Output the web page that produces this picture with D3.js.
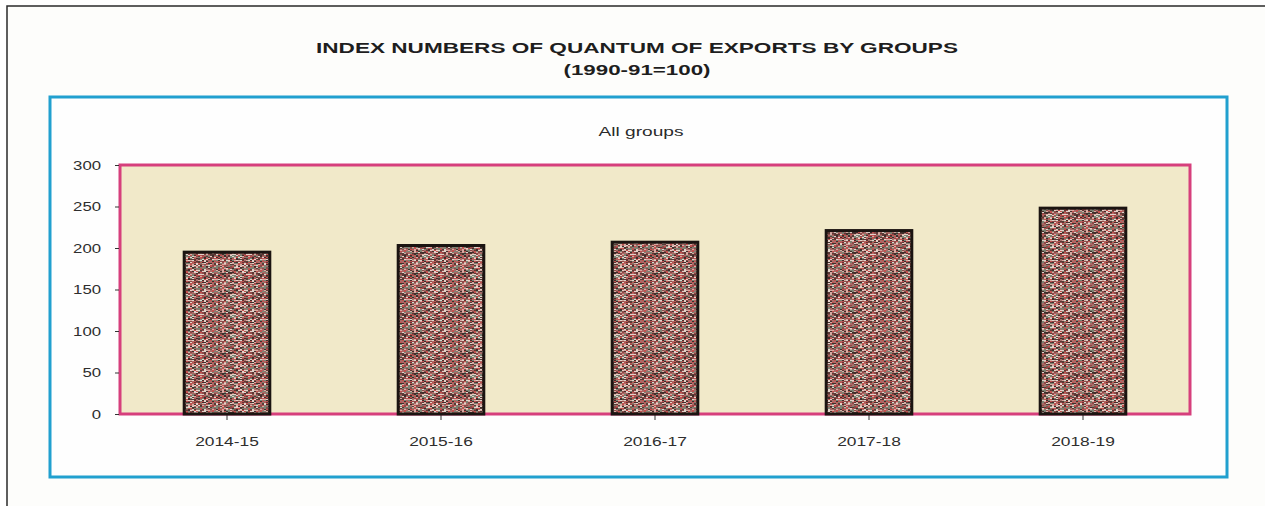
<!DOCTYPE html>
<html>
<head>
<meta charset="utf-8">
<script src="https://cdn.jsdelivr.net/npm/d3@7"></script>
<style>
  html, body { margin: 0; padding: 0; background: #fff; }
  svg text { font-family: Arial, "Liberation Sans", sans-serif; }
</style>
</head>
<body>
<div id="chart"></div>
<script>
// data
const years = ['2014-15', '2015-16', '2016-17', '2017-18', '2018-19'];
const allGroups = [195, 203, 207, 221, 248];
const yTicks = [0, 50, 100, 150, 200, 250, 300];

const width = 1265, height = 506;
const plot = {left: 120, right: 1190, top: 165, bottom: 414};

const svg = d3.select('#chart').append('svg')
  .attr('width', width)
  .attr('height', height);

// the speckled bar texture, a fixed tile built from an integer hash
const defs = svg.append('defs');
const tileW = 24, tileH = 20;
const tile = defs.append('pattern')
  .attr('id', 'speckle')
  .attr('patternUnits', 'userSpaceOnUse')
  .attr('width', tileW * 2).attr('height', tileH);
const speckColors = ['#e3d3ca', '#c2504f', '#5a3a36', '#7c8373', '#a96b67', '#3f2e2b', '#d8aaa2', '#8e4a48'];

function cellHash(i, j) {
  let h = Math.imul(i, 374761393) + Math.imul(j, 668265263);
  h = Math.imul(h ^ (h >>> 13), 1274126177);
  h ^= h >>> 16;
  return (h >>> 24) % speckColors.length;
}

for (let i = 0; i < tileW; i++) {
  for (let j = 0; j < tileH; j++) {
    tile.append('rect')
      .attr('x', i * 2).attr('y', j)
      .attr('width', 2).attr('height', 1)
      .attr('fill', speckColors[cellHash(i, j)]);
  }
}

// outer frame (only top and left are inside the picture)
svg.append('rect')
  .attr('x', 7).attr('y', 6)
  .attr('width', width + 20).attr('height', height + 20)
  .attr('fill', '#fdfdfb')
  .attr('stroke', '#2a2a2a')
  .attr('stroke-width', 1.5);

// stretch a text element to a measured width
function stretch(sel, factor) {
  sel.each(function() {
    const w = this.getComputedTextLength();
    d3.select(this)
      .attr('textLength', w * factor)
      .attr('lengthAdjust', 'spacingAndGlyphs');
  });
}

svg.append('text')
  .attr('x', 637).attr('y', 53)
  .attr('text-anchor', 'middle')
  .attr('font-size', 14).attr('font-weight', 'bold')
  .attr('fill', '#1e1e1e')
  .text('INDEX NUMBERS OF QUANTUM OF EXPORTS BY GROUPS')
  .attr('textLength', 642).attr('lengthAdjust', 'spacingAndGlyphs');

svg.append('text')
  .attr('x', 637).attr('y', 75)
  .attr('text-anchor', 'middle')
  .attr('font-size', 14).attr('font-weight', 'bold')
  .attr('fill', '#1e1e1e')
  .text('(1990-91=100)')
  .attr('textLength', 147).attr('lengthAdjust', 'spacingAndGlyphs');

// blue chart-area box
svg.append('rect')
  .attr('x', 50).attr('y', 97)
  .attr('width', 1177).attr('height', 380)
  .attr('fill', '#fefefe')
  .attr('stroke', '#21a0cf')
  .attr('stroke-width', 3);

svg.append('text')
  .attr('x', 641).attr('y', 136)
  .attr('text-anchor', 'middle')
  .attr('font-size', 12.5)
  .attr('fill', '#2a2a2a')
  .text('All groups')
  .attr('textLength', 85).attr('lengthAdjust', 'spacingAndGlyphs');

// scales
const x = d3.scaleBand()
  .domain(years)
  .range([plot.left, plot.right])
  .paddingInner(0.6)
  .paddingOuter(0.3);

const y = d3.scaleLinear()
  .domain([0, 300])
  .range([plot.bottom, plot.top]);

// plot area
svg.append('rect')
  .attr('x', plot.left).attr('y', plot.top)
  .attr('width', plot.right - plot.left)
  .attr('height', plot.bottom - plot.top)
  .attr('fill', '#f1e9c9')
  .attr('stroke', '#d63f7c')
  .attr('stroke-width', 3);

// axes
const yAxis = svg.append('g')
  .attr('transform', `translate(${plot.left - 1},0)`)
  .call(d3.axisLeft(y).tickValues(yTicks).tickSize(4).tickPadding(14));

const xAxis = svg.append('g')
  .attr('transform', `translate(0,${plot.bottom + 1})`)
  .call(d3.axisBottom(x).tickSize(5).tickPadding(17));

[yAxis, xAxis].forEach(g => {
  g.select('.domain').remove();
  g.selectAll('.tick line').attr('stroke', '#333');
  g.selectAll('.tick text')
    .attr('font-size', 12.5)
    .attr('font-family', 'Arial, "Liberation Sans", sans-serif')
    .attr('fill', '#2e2e2e');
});
stretch(yAxis.selectAll('.tick text'), 1.34);
stretch(xAxis.selectAll('.tick text'), 1.39);

// bars
svg.append('g')
  .selectAll('rect')
  .data(years.map((d, i) => ({year: d, value: allGroups[i]})))
  .join('rect')
    .attr('x', d => x(d.year))
    .attr('y', d => y(d.value))
    .attr('width', x.bandwidth())
    .attr('height', d => y(0) - y(d.value))
    .attr('fill', 'url(#speckle)')
    .attr('stroke', '#1b1411')
    .attr('stroke-width', 3);
</script>
</body>
</html>
